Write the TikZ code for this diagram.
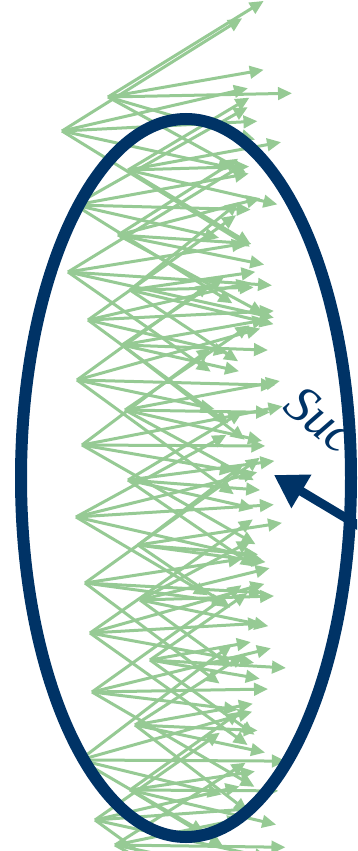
\documentclass[tikz,border=0pt]{standalone}
\usepackage{fontspec}
\setmainfont{Liberation Serif}
\usetikzlibrary{arrows.meta}
\definecolor{leaf}{RGB}{150,202,148}
\definecolor{navy}{RGB}{0,51,102}
\begin{document}
\begin{tikzpicture}[x=1pt,y=-1pt,
  garrow/.style={draw=leaf,line width=3pt,-{Triangle[length=14pt,width=12.5pt]}},
  ring/.style={draw=navy,line width=12pt},
  bigarrow/.style={draw=navy,line width=9pt,-{Triangle[length=32pt,width=37pt]}},
  lbl/.style={text=navy,inner sep=0pt,font=\fontsize{52}{56}\selectfont\itshape}]
\useasboundingbox (0,0) rectangle (357,851);
\clip (0,0) rectangle (357,851);
\pgfmathsetseed{11}
\foreach \sx/\sy [count=\i] in {62/131,108/97,75/205,128/170,68/272,118/235,88/320,130/290,77/380,122/345,82/445,125/410,76/517,128/480,85/583,138/545,90/633,140/600,92/692,150/660,80/760,135/725,95/820,130/790,115/845} {
  \coordinate (s\i) at (\sx,\sy);
  \pgfmathsetmacro\sc{(282-\sx)/180}
  \foreach \dx/\dy in {150/-100,175/-35,180/0,168/32,150/95} {
    \pgfmathsetmacro\ln{\sc*(0.9+0.12*rand)}
    \pgfmathsetmacro\jx{\ln*(\dx+15*rand)}
    \pgfmathsetmacro\jy{\ln*(\dy+14*rand)}
    \draw[garrow] (s\i) -- ++(\jx,\jy);
  }
}
\node[lbl,rotate=-39,anchor=base west] (label) at (281,409) {Suc};
\coordinate (tail) at (366,530);
\coordinate (tip) at (274,475);
\draw[bigarrow] (tail) -- (tip);
\draw[ring] (186,478) ellipse [x radius=165, y radius=359];
\end{tikzpicture}
\end{document}
